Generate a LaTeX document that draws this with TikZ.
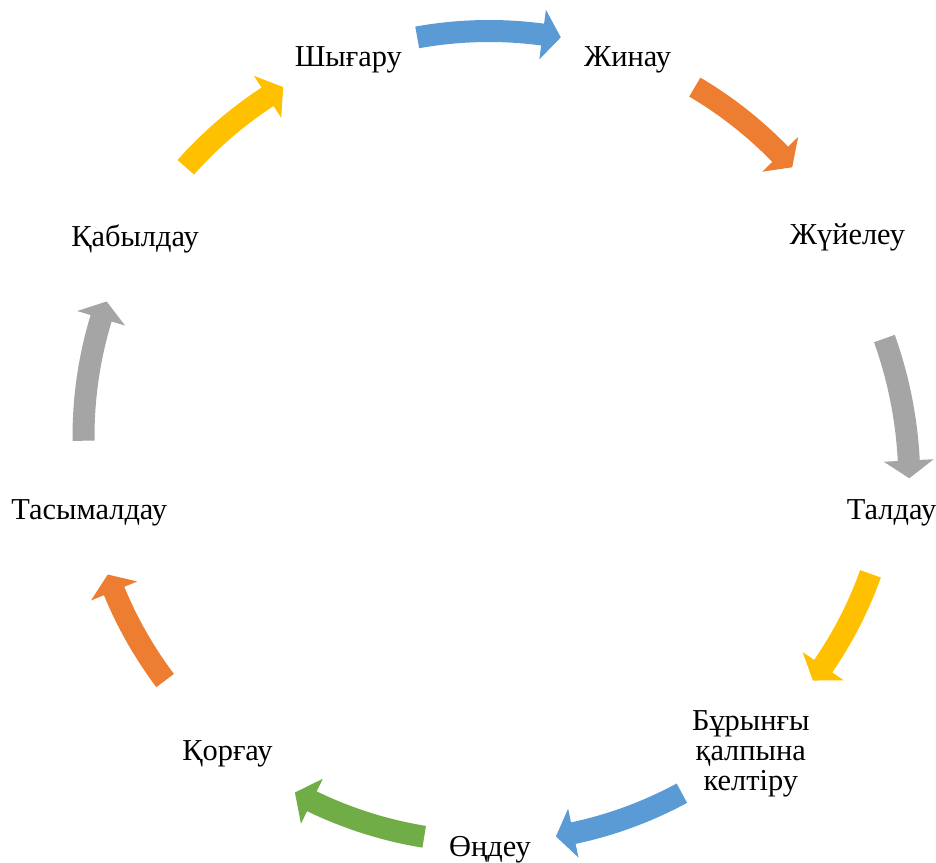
\documentclass[tikz,border=0pt]{standalone}
\usepackage{fontspec}
\setmainfont{Liberation Serif}
\definecolor{cBlue}{HTML}{5B9BD5}
\definecolor{cOrange}{HTML}{ED7D31}
\definecolor{cGray}{HTML}{A5A5A5}
\definecolor{cGold}{HTML}{FFC000}
\definecolor{cGreen}{HTML}{70AD47}
% #1 colour, #2 centre x, #3 centre y (image px, downwards), #4 mid radius,
% #5 tail angle, #6 head-base angle, #7 tip angle
\newcommand\cycarrow[7]{%
  \fill[#1, shift={(#2,862-#3)}]
    (#5:#4+11) arc[start angle=#5, end angle=#6, radius=#4pt+11pt]
    -- (#6:#4+25) -- (#7:#4) -- (#6:#4-25) -- (#6:#4-11)
    arc[start angle=#6, end angle=#5, radius=#4pt-11pt] -- cycle;}
\tikzset{
  lbl/.style={font=\fontsize{30.4}{30}\selectfont, inner sep=0pt, anchor=base, align=center},
}
\begin{document}
\begin{tikzpicture}[x=1pt,y=1pt]
\useasboundingbox (0,0) rectangle (936,862);
% arrows
\cycarrow{cBlue}{489}{436.5}{405.5}{100.2}{82.4}{79.8}
\cycarrow{cOrange}{489}{436.5}{405.5}{59.5}{44.1}{41.6}
\cycarrow{cGray}{483.8}{482}{425.5}{19.7}{2.9}{0.5}
\cycarrow{cGold}{489}{436.5}{405.5}{-19.8}{-34.5}{-37.0}
\cycarrow{cBlue}{489}{436.5}{405.5}{-61.6}{-78.0}{-80.5}
\cycarrow{cGreen}{489}{436.5}{405.5}{-99.2}{-115.9}{-118.6}
\cycarrow{cOrange}{489}{436.5}{405.5}{-143.0}{-157.6}{-160.1}
\cycarrow{cGray}{489}{436.5}{405.5}{180.6}{163.05}{160.55}
\cycarrow{cGold}{489}{436.5}{405.5}{138.4}{123.1}{120.5}
% labels
\node[lbl] (n1) at (348.3,862-66.7) {Шығару};
\node[lbl] (n2) at (627.5,862-66.7) {Жинау};
\node[lbl] (n3) at (847.5,862-245) {Жүйелеу};
\node[lbl] (n4) at (891.5,862-519.5) {Талдау};
\node[lbl] (n5) at (750.8,862-790) {Бұрынғы\\қалпына\\келтіру};
\node[lbl] (n6) at (490,862-856.7) {Өңдеу};
\node[lbl] (n7) at (227.5,862-760) {Қорғау};
\node[lbl] (n8) at (89.2,862-519.3) {Тасымалдау};
\node[lbl] (n9) at (135,862-247) {Қабылдау};
\end{tikzpicture}
\end{document}
